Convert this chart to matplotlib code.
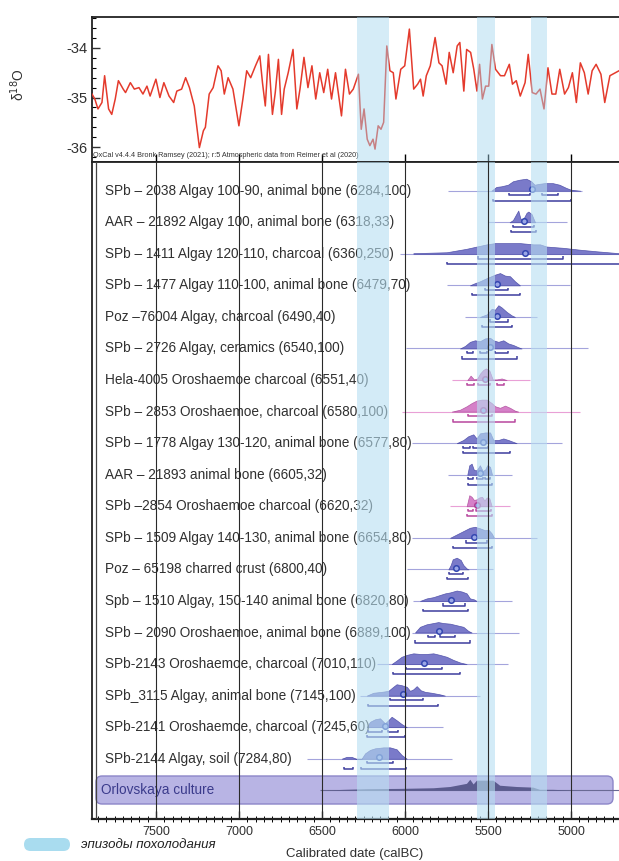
import matplotlib
matplotlib.use('Agg')
import matplotlib.pyplot as plt
import numpy as np
from matplotlib.patches import FancyBboxPatch
from matplotlib.ticker import MultipleLocator
import matplotlib.transforms as mtransforms

plt.rcParams['font.family'] = ['Liberation Sans', 'DejaVu Sans']
plt.rcParams['axes.unicode_minus'] = False

# ---------------- data ----------------
O18_YEARS = [7886,7869,7850,7826,7810,7786,7767,7746,7727,7698,
             7684,7655,7631,7603,7579,7555,7536,7501,7477,7453,
             7422,7394,7375,7346,7322,7299,7270,7239,7215,7203,
             7180,7156,7127,7108,7089,7066,7037,7001,6977,6954,
             6930,6901,6875,6859,6842,6823,6799,6782,6763,6744,
             6728,6704,6675,6652,6633,6609,6585,6561,6538,6514,
             6490,6466,6443,6419,6383,6359,6335,6312,6281,6264,
             6247,6228,6212,6193,6181,6162,6145,6129,6110,6091,
             6071,6055,6026,6002,5974,5948,5924,5907,5891,5872,
             5848,5819,5796,5777,5753,5734,5710,5686,5670,5646,
             5629,5605,5586,5567,5551,5534,5515,5496,5477,5455,
             5425,5401,5372,5353,5330,5306,5277,5258,5234,5211,
             5187,5163,5139,5115,5092,5068,5039,5016,4992,4968,
             4944,4920,4897,4873,4849,4820,4797,4766,4711,4680]
O18_VALUES = [-34.93,-35.03,-35.23,-35.10,-34.56,-35.23,-35.34,-35.03,-34.66,-34.83,
              -34.90,-34.70,-34.83,-34.80,-34.93,-34.77,-34.97,-34.63,-35.00,-34.70,
              -34.97,-35.10,-34.87,-34.83,-34.60,-34.80,-35.17,-36.01,-35.67,-35.60,
              -34.93,-34.80,-34.36,-34.46,-34.93,-34.60,-34.83,-35.57,-35.03,-34.46,
              -34.60,-34.36,-34.16,-34.70,-35.17,-34.13,-35.34,-34.90,-34.23,-35.34,
              -34.83,-34.50,-34.03,-35.23,-34.83,-34.19,-34.80,-34.36,-35.03,-34.50,
              -34.90,-34.43,-35.03,-34.50,-35.37,-34.43,-34.93,-34.83,-34.53,-35.64,
              -35.23,-35.84,-35.97,-35.84,-36.04,-35.57,-35.64,-35.50,-33.96,-34.46,
              -34.50,-35.03,-34.43,-34.36,-33.62,-34.83,-34.73,-34.63,-34.97,-34.56,
              -34.36,-33.79,-34.30,-34.36,-34.73,-34.09,-34.50,-33.96,-33.89,-34.87,
              -34.03,-34.09,-34.43,-34.87,-34.33,-35.03,-34.77,-34.77,-33.93,-34.43,
              -34.56,-34.56,-34.33,-34.73,-34.66,-34.97,-34.70,-34.13,-34.90,-34.93,
              -34.83,-35.23,-34.40,-34.93,-34.93,-34.43,-34.93,-34.80,-34.50,-35.10,
              -34.30,-34.50,-34.93,-34.46,-34.33,-34.53,-35.10,-34.56,-34.46,-34.45]

COLD_EPISODES = [(6290, 6095), (5565, 5460), (5240, 5145)]

LABELS = [
    "SPb – 2038 Algay 100-90, animal bone (6284,100)",
    "AAR – 21892 Algay 100, animal bone (6318,33)",
    "SPb – 1411 Algay 120-110, charcoal (6360,250)",
    "SPb – 1477 Algay 110-100, animal bone (6479,70)",
    "Poz –76004 Algay, charcoal (6490,40)",
    "SPb – 2726 Algay, ceramics (6540,100)",
    "Hela-4005 Oroshaemoe charcoal (6551,40)",
    "SPb – 2853 Oroshaemoe, charcoal (6580,100)",
    "SPb – 1778 Algay 130-120, animal bone (6577,80)",
    "AAR – 21893 animal bone (6605,32)",
    "SPb –2854 Oroshaemoe charcoal (6620,32)",
    "SPb – 1509 Algay 140-130, animal bone (6654,80)",
    "Poz – 65198 charred crust (6800,40)",
    "Spb – 1510 Algay, 150-140 animal bone (6820,80)",
    "SPb – 2090 Oroshaemoe, animal bone (6889,100)",
    "SPb-2143 Oroshaemoe, charcoal (7010,110)",
    "SPb_3115 Algay, animal bone (7145,100)",
    "SPb-2141 Oroshaemoe, charcoal (7245,60)",
    "SPb-2144 Algay, soil (7284,80)",
]
GROUP_LABEL = "Orlovskaya culture"
PINK_ROWS = [6, 7, 10]

DIST_YEARS = [
    [5480,5450,5420,5380,5350,5310,5270,5240,5220,5190,5160,5110,5070,5030,5000,4945],
    [5370,5350,5330,5318,5305,5290,5268,5257,5238,5217],
    [5950,5749,5629,5569,5508,5458,5388,5308,5227,5187,5147,5047,4946,4846,4711],
    [5609,5589,5549,5508,5458,5428,5398,5368,5338,5308],
    [5549,5508,5478,5458,5438,5418,5388,5358,5338],
    [5669,5639,5609,5579,5549,5518,5488,5468,5438,5408,5378,5348,5318,5298],
    [5625,5605,5585,5565,5549,5529,5513,5492,5472,5448,5418,5388],
    [5719,5669,5629,5599,5569,5539,5508,5478,5458,5428,5398,5368,5338,5318],
    [5689,5649,5619,5589,5569,5549,5518,5488,5468,5438,5408,5378,5348,5328],
    [5625,5613,5599,5585,5569,5549,5533,5518,5505,5488,5476],
    [5629,5613,5599,5585,5569,5553,5536,5522,5508,5492,5478],
    [5729,5699,5669,5639,5609,5579,5548,5518,5498,5478,5464],
    [5739,5725,5713,5689,5665,5649,5629,5617],
    [5910,5870,5830,5789,5759,5729,5689,5659,5629,5609,5585,5569],
    [5940,5910,5870,5830,5800,5770,5729,5689,5649,5619,5599],
    [6081,6051,6021,5990,5950,5910,5870,5830,5790,5749,5709,5669,5629],
    [6231,6191,6141,6101,6071,6051,6021,5990,5970,5950,5930,5906,5880,5840,5790,5760],
    [6231,6211,6181,6151,6121,6101,6081,6051,6021,5990],
    [6382,6352,6322,6296,6262,6241,6211,6181,6131,6091,6051,6021,5990],
]
DIST_HEIGHTS = [
    [0,0.12,0.14,0.19,0.30,0.35,0.38,0.30,0.19,0.22,0.24,0.24,0.19,0.09,0.03,0],
    [0,0.07,0.26,0.37,0.12,0.08,0.30,0.34,0.26,0],
    [0.02,0.05,0.16,0.23,0.30,0.34,0.34,0.34,0.30,0.30,0.23,0.19,0.13,0.08,0.02],
    [0,0.05,0.13,0.23,0.34,0.39,0.31,0.29,0.13,0],
    [0,0.08,0.26,0.23,0.37,0.30,0.16,0.05,0],
    [0,0.08,0.21,0.26,0.23,0.32,0.34,0.26,0.21,0.26,0.16,0.11,0.04,0],
    [0,0.14,0.02,0.05,0.20,0.32,0.37,0.30,0.02,0.02,0.05,0],
    [0,0.06,0.17,0.27,0.35,0.38,0.38,0.27,0.17,0.12,0.19,0.12,0.03,0],
    [0,0.10,0.22,0.28,0.15,0.31,0.34,0.34,0.10,0.10,0.15,0.10,0.04,0],
    [0,0.30,0.35,0.15,0.14,0.30,0.12,0.16,0.30,0.25,0],
    [0,0.35,0.30,0.20,0.22,0.28,0.30,0.18,0.28,0.25,0],
    [0,0.08,0.16,0.24,0.32,0.35,0.30,0.24,0.26,0.14,0],
    [0,0.14,0.32,0.37,0.30,0.14,0.03,0],
    [0,0.08,0.12,0.19,0.24,0.27,0.33,0.30,0.24,0.08,0.05,0],
    [0,0.18,0.26,0.30,0.33,0.30,0.28,0.23,0.18,0.05,0],
    [0,0.11,0.23,0.29,0.34,0.32,0.32,0.34,0.29,0.23,0.13,0.05,0],
    [0,0.09,0.12,0.15,0.28,0.36,0.33,0.28,0.15,0.20,0.30,0.17,0.12,0.09,0.04,0],
    [0,0.17,0.25,0.28,0.12,0.22,0.33,0.22,0.10,0],
    [0,0.06,0.06,0,0,0.17,0.28,0.33,0.36,0.36,0.30,0.12,0],
]
LINE_RANGES = [(5740,4935),(5500,5025),(6030,4600),(5749,5006),(5639,5207),
               (5994,4896),(5719,5247),(6020,4946),(5960,5057),(5739,5358),
               (5729,5368),(5960,5207),(5990,5468),(5950,5358),(5958,5313),
               (6171,5378),(6272,5549),(6231,5770),(6593,5719)]
MEDIANS = [5237,5284,5278,5444,5444,5488,5518,5529,5529,5549,
           5568,5585,5693,5725,5795,5886,6015,6121,6155]
RANGES_68 = [
    [(5372,5247),(5177,5077)], [(5348,5225)], [(5559,5047)], [(5519,5378)],
    [(5488,5378)], [(5629,5589),(5549,5508),(5458,5378)],
    [(5625,5585),(5559,5488),(5444,5404)], [(5619,5478)],
    [(5649,5609),(5589,5498)], [(5619,5589),(5569,5529),(5518,5490)],
    [(5619,5590),(5575,5480)], [(5633,5508)], [(5733,5649)], [(5773,5639)],
    [(5860,5820),(5790,5700)], [(5995,5780)], [(6091,5890)],
    [(6221,6141),(6101,6041)], [(6231,6071)],
]
RANGES_95 = [
    [(5472,5002)], [(5364,5211)], [(5749,4700)], [(5599,5308)], [(5539,5358)],
    [(5659,5328)], [], [(5709,5338)], [(5649,5368)], [(5619,5478)],
    [(5629,5478)], [(5713,5478)], [(5745,5619)], [(5890,5619)], [(5940,5610)],
    [(6075,5669)], [(6221,5800)], [(6231,6001)], [(6368,6312),(6268,5994)],
]
ORL_YEARS = [6515,6370,6230,6030,5830,5730,5690,5630,5610,5590,5570,5470,5430,5330,5230,5190,5110,4965]
ORL_HEIGHTS = [0,0.03,0.05,0.06,0.08,0.12,0.16,0.22,0.35,0.20,0.32,0.32,0.16,0.12,0.10,0.03,0.03,0]
ORL_LINE = (6515, 4700)

MAJOR_TICKS = [7500, 7000, 6500, 6000, 5500, 5000]
Y_TICKS = [-34, -35, -36]

# ---------------- layout ----------------
W, H = 619, 861
fig = plt.figure(figsize=(W / 100, H / 100), dpi=100)

def fx(px):
    return px / W

def fy(py):
    return 1 - py / H

L, R = 92, 625
TOP_T, TOP_B, MAIN_B = 16.7, 162, 819
ax_top = fig.add_axes([fx(L), fy(TOP_B), (R - L) / W, (TOP_B - TOP_T) / H])
ax = fig.add_axes([fx(L), fy(MAIN_B), (R - L) / W, (MAIN_B - TOP_B) / H])
XLIM = (7886, 4675)

TEXT_COLOR = '#303030'

# ---------------- top panel ----------------
ax_top.plot(O18_YEARS, O18_VALUES, color='#e43a2c', lw=1.1, zorder=3)
ax_top.set_xlim(*XLIM)
ax_top.set_ylim(-36.30, -33.37)
ax_top.set_yticks(Y_TICKS)
ax_top.set_yticklabels([str(v) for v in Y_TICKS])
ax_top.yaxis.set_minor_locator(MultipleLocator(0.2))
ax_top.set_xticks(MAJOR_TICKS)
ax_top.set_xticklabels([])
ax_top.tick_params(axis='y', direction='in', length=6, width=1, labelsize=10.5,
                   pad=3, colors=TEXT_COLOR)
ax_top.tick_params(axis='y', which='minor', direction='in', length=3, width=0.8)
ax_top.tick_params(axis='x', direction='in', length=6, width=1)
for s in ax_top.spines.values():
    s.set_linewidth(1.3)
    s.set_color('#222222')
for a, b in COLD_EPISODES:
    ax_top.axvspan(a, b, color='#a3d6ee', alpha=0.45, lw=0, zorder=5)
ax_top.text(0.002, 0.02, "OxCal v4.4.4 Bronk Ramsey (2021); r:5 Atmospheric data from Reimer et al (2020)",
            transform=ax_top.transAxes, fontsize=5.2, color='#333333', va='bottom', ha='left', zorder=4)
fig.text(fx(18), fy(85), 'δ$^{18}$O', rotation=90, ha='center', va='center',
         fontsize=10, color=TEXT_COLOR)

# ---------------- main panel ----------------
ax.set_xlim(*XLIM)
ax.set_ylim(19.91, -0.91)
ax.set_yticks([])
ax.set_xticks(MAJOR_TICKS)
ax.set_xticklabels([str(t) for t in MAJOR_TICKS])
ax.xaxis.set_minor_locator(MultipleLocator(50))
ax.tick_params(axis='x', direction='in', length=6, width=1, labelsize=9, pad=5,
               colors=TEXT_COLOR)
ax.tick_params(axis='x', which='minor', direction='inout', length=4, width=0.7)
for s in ax.spines.values():
    s.set_linewidth(1.3)
    s.set_color('#222222')
ax.spines['bottom'].set_linewidth(1.6)
ax.axvline(XLIM[0] - 4 / 0.166, color='#444444', lw=0.9, zorder=6)

for t in MAJOR_TICKS:
    ax.axvline(t, color='#2a2a2a', lw=0.8, zorder=7)

blend = mtransforms.blended_transform_factory(ax.transAxes, ax.transData)

BLUE = dict(fill='#6c6cc4', edge='#4a4aa6', line='#a4a4dc', br='#3d3d9e', med='#3346b0')
PINK = dict(fill='#d172c2', edge='#b04e9e', line='#e9a0d6', br='#b8479e', med='#b03f96')

def bracket(a, b, y, color):
    ax.plot([a, a, b, b], [y - 0.07, y, y, y - 0.07], color=color, lw=1.1,
            solid_capstyle='butt', zorder=4)

for i, label in enumerate(LABELS):
    c = PINK if i in PINK_ROWS else BLUE
    ax.text(0.0244, i, label, transform=blend, fontsize=9.8, color=TEXT_COLOR,
            va='center', ha='left', zorder=4)
    la, lb = LINE_RANGES[i]
    ax.hlines(i, la, lb, color=c['line'], lw=0.8, zorder=2)
    yrs = np.array(DIST_YEARS[i])
    h = np.array(DIST_HEIGHTS[i])
    ax.fill_between(yrs, i, i - h, color=c['fill'], lw=0.5, edgecolor=c['edge'],
                    alpha=0.9, zorder=3)
    for a, b in RANGES_68[i]:
        bracket(a, b, i + 0.15, c['br'])
    for a, b in RANGES_95[i]:
        bracket(a, b, i + 0.32, c['br'])
    ax.plot(MEDIANS[i], i - 0.04, 'o', ms=4, mfc='#9aa6e6', mec=c['med'], mew=1.1, zorder=4)

# Orlovskaya culture group box
gi = len(LABELS)
box_x0, box_x1 = (96 - L) / (R - L), (613 - L) / (R - L)
box_y0 = (MAIN_B - 804) / (MAIN_B - TOP_B)
box_y1 = (MAIN_B - 776) / (MAIN_B - TOP_B)
rpx = 6
box = FancyBboxPatch((box_x0, box_y0), box_x1 - box_x0, box_y1 - box_y0,
                     boxstyle=f"round,pad=0,rounding_size={rpx / (R - L)}",
                     mutation_aspect=(R - L) / (MAIN_B - TOP_B),
                     transform=ax.transAxes, facecolor='#b8b4e4', edgecolor='#8c86c8',
                     lw=1.0, zorder=1)
ax.add_patch(box)
ax.hlines(gi, ORL_LINE[0], ORL_LINE[1], color='#6a6a94', lw=0.8, zorder=2)
ax.fill_between(ORL_YEARS, gi, gi - np.array(ORL_HEIGHTS), color='#5b5b8e', lw=0, zorder=3)
ax.text(0.016, gi, GROUP_LABEL, transform=blend, fontsize=9.8, color='#3b3b8c',
        va='center', ha='left', zorder=4)

for a, b in COLD_EPISODES:
    ax.axvspan(a, b, color='#b7dff2', alpha=0.6, lw=0, zorder=5)

# ---------------- legend & x label ----------------
leg = FancyBboxPatch((fx(24), fy(851)), fx(46), 13 / H,
                     boxstyle=f"round,pad=0,rounding_size={6.5 / W}",
                     mutation_aspect=W / H,
                     transform=fig.transFigure, facecolor='#a9dcef', edgecolor='none')
fig.patches.append(leg)
fig.text(fx(81), fy(845), 'эпизоды похолодания', fontsize=9.5, style='italic',
         color='#222222', va='center', ha='left')
fig.text(fx(355), fy(854), 'Calibrated date (calBC)', fontsize=9.5, color=TEXT_COLOR,
         va='center', ha='center')

fig.savefig('out.png', dpi=100)
